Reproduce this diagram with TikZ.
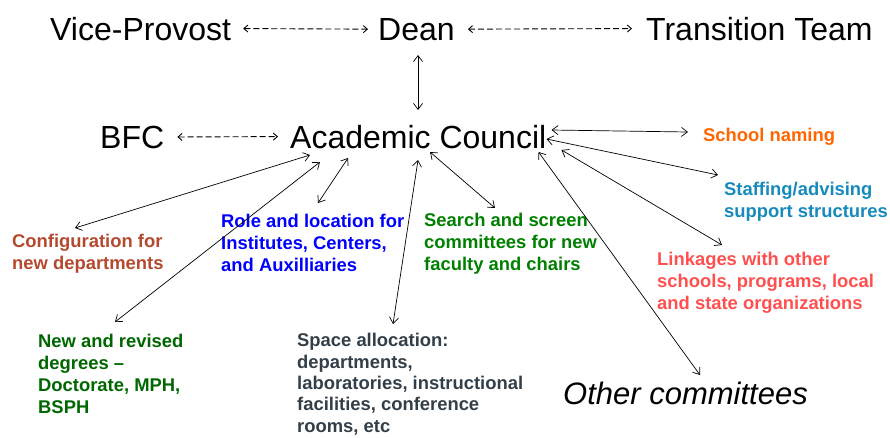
\documentclass[tikz,border=0pt]{standalone}
\usepackage{fontspec}
\setmainfont{Liberation Sans}
\usetikzlibrary{arrows.meta}

\definecolor{cfgbrown}{RGB}{181,73,47}
\definecolor{roleblue}{RGB}{0,0,255}
\definecolor{searchgreen}{RGB}{0,128,0}
\definecolor{degreegreen}{RGB}{0,102,0}
\definecolor{spacegray}{RGB}{51,63,72}
\definecolor{nameorange}{RGB}{255,102,0}
\definecolor{staffblue}{RGB}{23,138,188}
\definecolor{linkred}{RGB}{255,80,80}

\tikzset{
  big/.style={inner sep=0pt,anchor=base west,font=\fontsize{32}{38}\selectfont},
  topic/.style={inner sep=0pt,anchor=base west,align=left,font=\fontsize{18.4}{22}\selectfont\bfseries},
  link/.style={{Straight Barb[length=6pt,width=9pt]}-{Straight Barb[length=6pt,width=9pt]},line width=0.7pt},
  dashlink/.style={{Straight Barb[length=4pt,width=7pt]}-{Straight Barb[length=4pt,width=7pt]},line width=0.9pt,dash pattern=on 6pt off 3pt}
}

\begin{document}
\begin{tikzpicture}[x=1pt,y=-1pt]
  \useasboundingbox (0,0) rectangle (890,437);
  % top row
  \node[big] (vp) at (50,40) {Vice-Provost};
  \node[big] (dean) at (378,40) {Dean};
  \node[big] (team) at (646,40) {Transition Team};
  \node[big] (bfc) at (100,148) {BFC};
  \node[big] (ac) at (290,148) {Academic Council};
  \node[big,font=\fontsize{31}{38}\selectfont\itshape] (other) at (563,404) {Other committees};
  % topics (placed at the baseline of their last line)
  \node[topic,cfgbrown] (config) at (12,269) {Configuration for\\new departments};
  \node[topic,degreegreen] (degrees) at (38,413) {New and revised\\degrees --\\Doctorate, MPH,\\BSPH};
  \node[topic,roleblue] (role) at (221,271) {Role and location for\\Institutes, Centers,\\and Auxilliaries};
  \node[topic,searchgreen] (search) at (424,270) {Search and screen\\committees for new\\faculty and chairs};
  \node[topic,spacegray,font=\fontsize{18.4}{21.3}\selectfont\bfseries] (space) at (297,432) {Space allocation:\\departments,\\laboratories, instructional\\facilities, conference\\rooms, etc};
  \node[topic,nameorange] (naming) at (703,141) {School naming};
  \node[topic,staffblue] (staff) at (724,217) {Staffing/advising\\support structures};
  \node[topic,linkred] (linkage) at (657,309) {Linkages with other\\schools, programs, local\\and state organizations};
  % dashed links
  \draw[dashlink] ([xshift=12pt]vp.east) -- ([xshift=-10pt]dean.west);
  \draw[dashlink] ([xshift=13pt]dean.east) -- ([xshift=-14pt]team.west);
  \draw[dashlink] ([xshift=13pt]bfc.east) -- ([xshift=-12pt]ac.west);
  % solid links
  \draw[link] ([xshift=40pt,yshift=-15pt]dean.base west) -- ([xshift=128pt,yshift=38pt]ac.base west);
  \draw[link] ([xshift=20pt,yshift=-7pt]ac.base west) -- ([xshift=63pt,yshift=41pt]config.base west);
  \draw[link] ([xshift=30pt,yshift=-14pt]ac.base west) -- ([xshift=77pt,yshift=91pt]degrees.base west);
  \draw[link] ([xshift=58pt,yshift=-10pt]ac.base west) -- ([xshift=97pt,yshift=68pt]role.base west);
  \draw[link] ([xshift=128pt,yshift=-12pt]ac.base west) -- ([xshift=96pt,yshift=108pt]space.base west);
  \draw[link] ([xshift=140pt,yshift=-4pt]ac.base west) -- ([xshift=71pt,yshift=62pt]search.base west);
  \draw[link] ([xshift=-8pt,yshift=-4pt]ac.base east) -- ([xshift=137pt,yshift=29pt]other.base west);
  \draw[link] ([xshift=15pt,yshift=-2pt]ac.base east) -- ([xshift=65pt,yshift=64pt]linkage.base west);
  \draw[link] ([xshift=0pt,yshift=9pt]ac.base east) -- ([xshift=-6pt,yshift=42pt]staff.base west);
  \draw[link] ([xshift=5pt,yshift=18pt]ac.base east) -- ([xshift=-15pt,yshift=9pt]naming.base west);
\end{tikzpicture}
\end{document}
